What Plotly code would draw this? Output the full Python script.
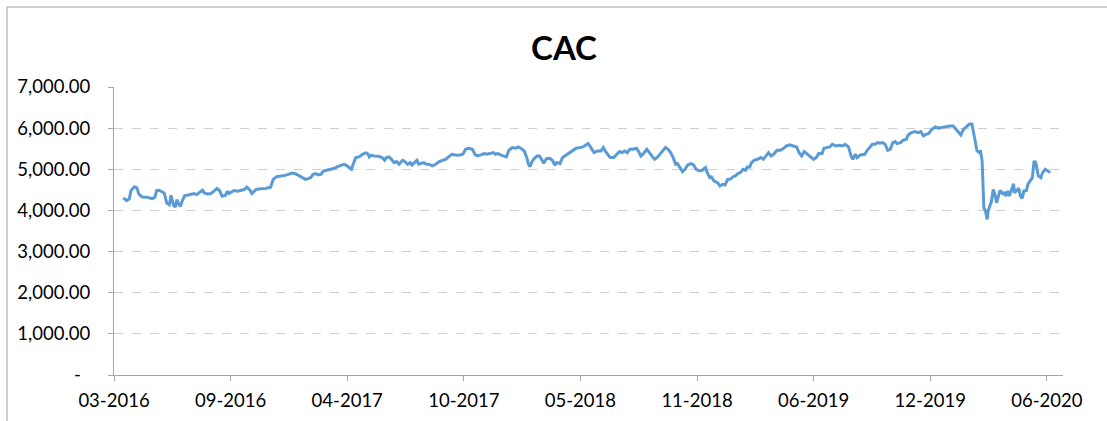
import plotly.graph_objects as go

# ---- data ----
# x: trading-session index from the start of the axis; y: CAC index level
sessions_a = [11, 15, 18, 20, 24, 27, 29, 33, 39, 45, 48, 50, 53, 56, 59, 62, 65, 67, 70, 72,
              74, 76, 78, 80, 83, 86, 90, 94, 97, 101, 104, 106, 110, 114, 117, 121, 124, 127, 131, 133,
              135, 138, 141, 145, 149, 153, 156, 160, 162, 165, 167, 172, 178, 184, 187, 191, 196, 201, 205, 209,
              213, 217]
values_a = [4303, 4238, 4287, 4484, 4574, 4549, 4402, 4328, 4320, 4287, 4320, 4484, 4492, 4451, 4426, 4180, 4139, 4369, 4123, 4082,
            4262, 4156, 4098, 4221, 4361, 4369, 4385, 4410, 4385, 4451, 4492, 4426, 4402, 4410, 4467, 4533, 4484, 4344, 4369, 4467,
            4410, 4443, 4484, 4467, 4484, 4508, 4566, 4484, 4410, 4467, 4508, 4525, 4533, 4566, 4754, 4820, 4828, 4852, 4877, 4910,
            4893, 4844]

sessions_b = [219, 223, 225, 228, 231, 234, 237, 240, 243, 246, 251, 255, 259, 262, 266, 270, 273, 276, 279, 281,
              284, 288, 292, 296, 298, 300, 302, 306, 311, 315, 318, 320, 323, 326, 329, 332, 335, 339, 341, 345,
              348, 350, 353, 356, 358, 361, 364, 367, 370, 374, 378, 382, 386, 390, 393, 397, 401, 405, 410, 413,
              417, 421, 424, 427, 431, 435, 438, 442]
values_b = [4838, 4781, 4757, 4773, 4797, 4878, 4895, 4862, 4878, 4959, 4984, 5000, 5024, 5057, 5097, 5122, 5097, 5041, 5000, 5122,
            5284, 5300, 5365, 5397, 5381, 5300, 5341, 5324, 5316, 5284, 5219, 5284, 5300, 5243, 5162, 5187, 5122, 5219, 5203, 5122,
            5162, 5105, 5162, 5219, 5122, 5138, 5162, 5122, 5122, 5081, 5122, 5186, 5219, 5243, 5300, 5365, 5349, 5341, 5365, 5486,
            5511, 5486, 5365, 5324, 5349, 5381, 5365, 5381]

sessions_c = [446, 448, 451, 454, 458, 461, 464, 468, 472, 475, 478, 482, 485, 487, 489, 491, 494, 497, 500, 503,
              505, 508, 512, 515, 518, 520, 524, 527, 530, 534, 537, 540, 543, 547, 551, 554, 557, 559, 562, 564,
              568, 572, 575, 577, 580, 583, 587, 591, 594, 597, 600, 603, 606, 610, 614, 616, 619, 622, 626, 629,
              632, 635, 638, 642, 645, 648, 651, 654, 657, 660, 662, 665]
values_c = [5405, 5365, 5381, 5349, 5324, 5300, 5462, 5527, 5511, 5543, 5511, 5446, 5284, 5122, 5065, 5186, 5267, 5324, 5324, 5203,
            5146, 5259, 5267, 5219, 5097, 5162, 5138, 5284, 5324, 5381, 5430, 5462, 5511, 5527, 5543, 5583, 5624, 5567, 5486, 5405,
            5446, 5446, 5527, 5446, 5365, 5284, 5284, 5381, 5430, 5405, 5446, 5405, 5486, 5486, 5511, 5446, 5324, 5381, 5486, 5405,
            5324, 5243, 5284, 5381, 5462, 5527, 5486, 5405, 5284, 5122, 5138, 5050]

sessions_d = [668, 671, 674, 678, 681, 684, 688, 691, 695, 697, 700, 702, 705, 709, 712, 715, 718, 721, 724, 727,
              730, 733, 736, 739, 742, 744, 747, 749, 752, 756, 760, 763, 766, 769, 772, 775, 779, 783, 787, 790,
              794, 798, 802, 805, 808, 811, 814, 818, 822, 825, 828, 832, 834, 837, 841, 844, 848, 852, 856, 859,
              863, 866, 868, 871, 873, 877, 880, 882, 885, 888]
values_d = [4943, 5000, 5105, 5138, 5105, 5000, 4959, 4976, 5041, 4919, 4797, 4814, 4716, 4676, 4595, 4635, 4619, 4757, 4757, 4814,
            4838, 4895, 4919, 5000, 4976, 5057, 5057, 5162, 5219, 5243, 5284, 5243, 5324, 5405, 5324, 5365, 5462, 5462, 5511, 5567,
            5592, 5567, 5543, 5405, 5324, 5430, 5381, 5324, 5243, 5284, 5381, 5381, 5511, 5527, 5543, 5608, 5567, 5583, 5567, 5608,
            5543, 5324, 5243, 5365, 5284, 5349, 5365, 5365, 5462, 5543]

sessions_e = [891, 894, 897, 900, 903, 906, 909, 912, 915, 918, 920, 924, 927, 931, 933, 937, 941, 945, 948, 951,
              954, 957, 961, 965, 969, 971, 974, 978, 982, 986, 989, 992, 995, 998, 1001, 1005, 1008, 1010, 1013, 1014,
              1017, 1018, 1020, 1021, 1022, 1024, 1026, 1027, 1029, 1031, 1033, 1035, 1037, 1039, 1041, 1044, 1046, 1048, 1050, 1052,
              1055, 1057, 1058, 1060, 1063, 1065, 1067, 1069, 1072, 1074, 1077, 1079, 1081, 1083, 1086, 1089, 1091, 1094, 1096, 1100]
values_e = [5608, 5608, 5648, 5632, 5648, 5608, 5462, 5486, 5648, 5673, 5624, 5648, 5705, 5729, 5835, 5891, 5916, 5891, 5916, 5810,
            5851, 5867, 5972, 6029, 5997, 6013, 6029, 6037, 6053, 6053, 5972, 5891, 5835, 5972, 6029, 6100, 6100, 5891, 5608, 5446,
            5405, 5462, 5200, 4470, 4065, 3984, 3781, 3984, 4105, 4227, 4510, 4389, 4186, 4348, 4486, 4405, 4429, 4348, 4470, 4348,
            4510, 4648, 4429, 4470, 4535, 4348, 4291, 4470, 4486, 4648, 4757, 4797, 5202, 5162, 4838, 4797, 4919, 5000, 4976, 4919]

sessions = sessions_a + sessions_b + sessions_c + sessions_d + sessions_e
values = values_a + values_b + values_c + values_d + values_e

x_tick_labels = ["03-2016", "09-2016", "04-2017", "10-2017", "05-2018",
                 "11-2018", "06-2019", "12-2019", "06-2020"]
x_tick_step = 137          # sessions between labelled categories
x_axis_end = 1115

y_tick_vals = [0, 1000, 2000, 3000, 4000, 5000, 6000, 7000]
y_tick_labels = ["-\u00a0\u00a0", "1,000.00", "2,000.00", "3,000.00",
                 "4,000.00", "5,000.00", "6,000.00", "7,000.00"]

# ---- figure ----
W, H = 1107, 421
ML, MR, MT, MB = 114, 44, 87, 46
FONT = "Lato"
AXIS_GREY = "#a6a6a6"

fig = go.Figure()
fig.add_trace(go.Scatter(
    x=sessions, y=values, mode="lines",
    line=dict(color="#5B9BD5", width=3),
    hoverinfo="skip", showlegend=False,
))

plot_w = W - ML - MR
plot_h = H - MT - MB
bx = (7 - ML) / plot_w
by = (H - MB - 7) / plot_h

fig.update_layout(
    width=W, height=H,
    margin=dict(l=ML, r=MR, t=MT, b=MB, pad=0, autoexpand=False),
    paper_bgcolor="white", plot_bgcolor="white",
    font=dict(family=FONT, size=18.5, color="#000000"),
    title=dict(text="CAC", x=564 / W, xref="container", xanchor="center",
               y=1 - 48 / H, yref="container", yanchor="middle",
               font=dict(family=FONT, size=33, color="#000000", weight="bold")),
    xaxis=dict(
        range=[0, x_axis_end],
        automargin=False,
        tickmode="array",
        tickvals=[i * x_tick_step for i in range(len(x_tick_labels))],
        ticktext=x_tick_labels,
        showgrid=False, zeroline=False,
        showline=True, linecolor=AXIS_GREY, linewidth=1,
        ticks="outside", ticklen=5, tickcolor=AXIS_GREY,
        ticklabelstandoff=4,
        fixedrange=True,
    ),
    yaxis=dict(
        range=[0, 7000],
        automargin=False,
        tickmode="array", tickvals=y_tick_vals, ticktext=y_tick_labels,
        showgrid=True, gridcolor="#d0d0d0", griddash="dash", gridwidth=1,
        zeroline=False,
        showline=True, linecolor=AXIS_GREY, linewidth=1,
        ticks="outside", ticklen=5, tickcolor=AXIS_GREY,
        ticklabelstandoff=14,
        fixedrange=True,
    ),
    shapes=[
        dict(type="line", xref="paper", yref="paper", x0=bx, x1=bx, y0=-1, y1=by,
             line=dict(color="#a0a0a0", width=1)),
        dict(type="line", xref="paper", yref="paper", x0=bx, x1=2, y0=by, y1=by,
             line=dict(color="#a0a0a0", width=1)),
    ],
)

fig.write_html("out.html", config={"displayModeBar": False},
               post_script="document.body.style.margin='0px';")
